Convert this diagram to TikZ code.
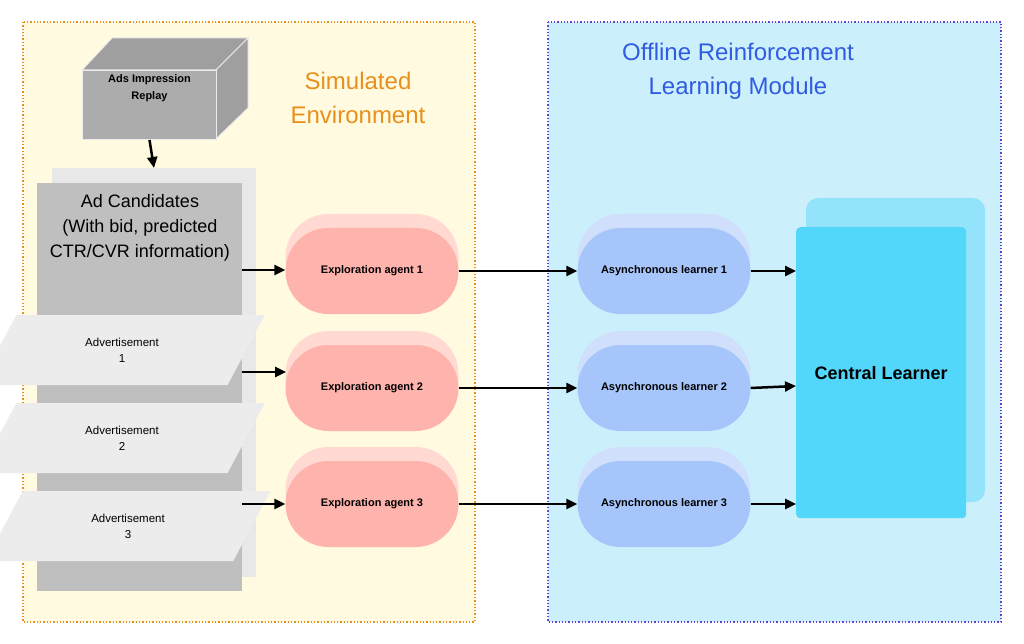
\documentclass[tikz,border=0pt]{standalone}
\usepackage{fontspec}
\setmainfont{Liberation Sans}
\usetikzlibrary{arrows.meta,shapes.geometric}
\definecolor{envbg}{HTML}{FFFAE0}
\definecolor{envbd}{HTML}{E8901C}
\definecolor{rlbg}{HTML}{CCEFFC}
\definecolor{rlbd}{HTML}{6A3FD0}
\definecolor{ttlblue}{HTML}{2F5CE0}
\definecolor{agent}{HTML}{FFB3AD}
\definecolor{agentsh}{HTML}{FFD9D2}
\definecolor{lrn}{HTML}{A6C6FB}
\definecolor{lrnsh}{HTML}{D0DFFC}
\definecolor{cen}{HTML}{52D6FA}
\definecolor{censh}{HTML}{93E3FA}
\begin{document}
\begin{tikzpicture}[x=1pt,y=-1pt,
  arr/.style={line width=2.5pt,-{Triangle[length=11pt,width=10pt]}},
  pill/.style={rounded corners=43pt,minimum width=173pt,minimum height=86pt,inner sep=0pt,font=\fontsize{11}{13}\selectfont\bfseries},
  para/.style={trapezium,trapezium left angle=62,trapezium right angle=118,fill=gray!15,minimum width=120pt,minimum height=70pt,inner sep=0pt,align=center,font=\fontsize{11.5}{16}\selectfont},
  ttl/.style={align=center,font=\fontsize{24}{34}\selectfont}]
\useasboundingbox (0,0) rectangle (1024,644);
\fill[white] (0,0) rectangle (1024,644);
\draw[envbd,fill=envbg,line width=1.3pt,dotted] (23,22) rectangle (475,622);
\draw[rlbd,fill=rlbg,line width=1.3pt,dotted] (548,22) rectangle (1001,622);
\node[ttl,text=envbd] (t1) at (358,98) {Simulated\\Environment};
\node[ttl,text=ttlblue] (t2) at (738,71) {Offline Reinforcement\\Learning Module};
% cube
\fill[gray!75,draw=gray!15,line width=1pt] (82,70) -- (112,38) -- (248,38) -- (216,70) -- cycle;
\fill[gray!75,draw=gray!15,line width=1pt] (216,70) -- (248,38) -- (248,108) -- (216,139) -- cycle;
\node[fill=gray!65,draw=gray!15,line width=1pt,minimum width=134pt,minimum height=69pt,inner sep=0pt,anchor=north west,align=center,font=\fontsize{11}{17}\selectfont\bfseries,text depth=0pt] (cube) at (82,70) {Ads Impression\\Replay\\[18pt]};
% ad candidates
\fill[gray!18] (52,168) rectangle (256,577);
\node[fill=gray!50,minimum width=205pt,minimum height=408pt,anchor=north west,inner sep=0pt] (cand) at (37,183) {};
\node[align=center,font=\fontsize{18}{25}\selectfont,anchor=north] (candt) at (140,191) {Ad Candidates\\(With bid, predicted\\CTR/CVR information)};
\node[para] (ad1) at (122,350) {Advertisement\\1};
\node[para] (ad2) at (122,438) {Advertisement\\2};
\node[para] (ad3) at (128,526) {Advertisement\\3};
\draw[arr] (cube.south) -- (154,168);
% agents
\foreach \i/\y in {1/271,2/388,3/504}{
  \node[pill,fill=agentsh] (as\i) at (372,\y-14) {};
  \node[pill,fill=agent] (a\i) at (372,\y) {Exploration agent \i};
  \node[pill,fill=lrnsh] (ls\i) at (664,\y-14) {};
  \node[pill,fill=lrn] (l\i) at (664,\y) {Asynchronous learner \i};
}
\fill[censh,rounded corners=12pt] (806,198) rectangle (985,502);
\node[fill=cen,rounded corners=4pt,minimum width=170pt,minimum height=291pt,inner sep=0pt,anchor=north west,font=\fontsize{18}{22}\selectfont\bfseries] (c) at (796,227) {Central Learner};
\coordinate (s1) at (242,270);
\coordinate (s2) at (242,372);
\coordinate (s3) at (242,504);
\draw[arr] (s1) -- (a1.west|-s1);
\draw[arr] (s2) -- (286,372);
\draw[arr] (s3) -- (a3.west|-s3);
\foreach \i in {1,2,3}{
  \draw[arr] (a\i.east) -- (l\i.west);
}
\draw[arr] (l1.east) -- (c.west|-l1.east);
\draw[arr] (l2.east) -- ([yshift=2pt]c.west|-l2.east);
\draw[arr] (l3.east) -- (c.west|-l3.east);
\end{tikzpicture}
\end{document}
